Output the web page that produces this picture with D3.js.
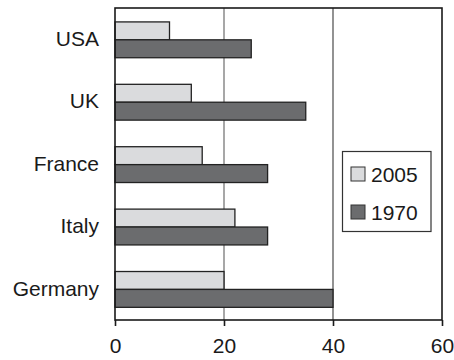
<!DOCTYPE html>
<html>
<head>
<meta charset="utf-8">
<script src="https://cdn.jsdelivr.net/npm/d3@7"></script>
<style>
  html, body { margin: 0; padding: 0; background: #fff; }
  svg { display: block; font-family: "Liberation Sans", Arial, Helvetica, sans-serif; }
</style>
</head>
<body>
<svg id="chart" width="454" height="360"></svg>
<script>
const categories = ["USA", "UK", "France", "Italy", "Germany"];
const seriesNames = ["2005", "1970"];
const values2005 = [10, 14, 16, 22, 20];
const values1970 = [25, 35, 28, 28, 40];
const xTicks = [0, 20, 40, 60];
const seriesColors = ["#dadbdd", "#6b6c6e"];

const svg = d3.select("#chart");
const mLeft = 115, mRight = 442, mTop = 8, mBottom = 320;

const x = d3.scaleLinear().domain([0, 60]).range([mLeft, mRight]);
const y = d3.scaleBand().domain(categories).range([mTop, mBottom]).padding(0);
const bw = y.bandwidth();
const sub = d3.scaleBand().domain(seriesNames).range([bw * 0.223, bw * 0.797]).padding(0);

const data = categories.map((c, i) => ({ cat: c, vals: [values2005[i], values1970[i]] }));

// gridlines
svg.append("g").selectAll("line")
  .data([20, 40]).join("line")
  .attr("x1", d => x(d)).attr("x2", d => x(d))
  .attr("y1", mTop).attr("y2", mBottom)
  .attr("stroke", d => d === 20 ? "#8a8a8a" : "#3a3a3a")
  .attr("stroke-width", d => d === 20 ? 1.5 : 1.1);

// bars
const groups = svg.append("g").selectAll("g")
  .data(data).join("g")
  .attr("transform", d => `translate(0,${y(d.cat)})`);
groups.selectAll("rect")
  .data(d => d.vals.map((v, j) => ({ key: seriesNames[j], v, j })))
  .join("rect")
  .attr("x", x(0))
  .attr("y", d => sub(d.key))
  .attr("width", d => x(d.v) - x(0))
  .attr("height", sub.bandwidth())
  .attr("fill", d => seriesColors[d.j])
  .attr("stroke", "#222")
  .attr("stroke-width", 1.3);

// frame
svg.append("rect")
  .attr("x", mLeft).attr("y", mTop)
  .attr("width", mRight - mLeft).attr("height", mBottom - mTop)
  .attr("fill", "none").attr("stroke", "#1a1a1a").attr("stroke-width", 1.6);

// x axis
const xAxis = d3.axisBottom(x).tickValues(xTicks).tickSize(6).tickPadding(12).tickFormat(d3.format("d"));
const gx = svg.append("g").attr("transform", `translate(0,${mBottom})`).call(xAxis);
gx.select(".domain").remove();
gx.selectAll(".tick line").attr("stroke", "#1a1a1a").attr("stroke-width", 1.6);
gx.selectAll(".tick text").attr("font-size", 21).attr("fill", "#1a1a1a")
  .attr("font-family", "'Liberation Sans', Arial, sans-serif");

// y axis labels
const yAxis = d3.axisLeft(y).tickSize(0).tickPadding(16);
const gy = svg.append("g").attr("transform", `translate(${mLeft},0)`).call(yAxis);
gy.select(".domain").remove();
gy.selectAll(".tick text").attr("font-size", 21).attr("fill", "#1a1a1a")
  .attr("font-family", "'Liberation Sans', Arial, sans-serif");

// legend
const lg = svg.append("g");
lg.append("rect").attr("x", 342.5).attr("y", 151.5).attr("width", 88.5).attr("height", 80)
  .attr("fill", "#fff").attr("stroke", "#333").attr("stroke-width", 1.2);
const items = lg.selectAll("g.item").data(seriesNames).join("g").attr("class", "item")
  .attr("transform", (d, i) => `translate(351,${167 + i * 38})`);
items.append("rect").attr("width", 14).attr("height", 14)
  .attr("fill", (d, i) => seriesColors[i]).attr("stroke", "#333").attr("stroke-width", 1);
items.append("text").attr("x", 20).attr("y", 7).attr("dy", "0.36em")
  .attr("font-size", 21).attr("fill", "#1a1a1a").text(d => d);
</script>
</body>
</html>
